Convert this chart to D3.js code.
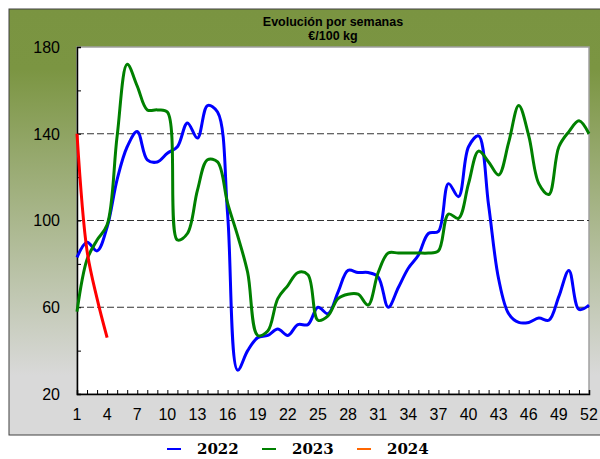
<!DOCTYPE html>
<html>
<head>
<meta charset="utf-8">
<script src="https://cdn.jsdelivr.net/npm/d3@7"></script>
<style>
  body { margin: 0; background: #fff; }
  svg { display: block; }
</style>
</head>
<body>
<svg id="chart" width="600" height="459"></svg>
<script>
const weeks = d3.range(1, 53);
const xTickWeeks = [1, 4, 7, 10, 13, 16, 19, 22, 25, 28, 31, 34, 37, 40, 43, 46, 49, 52];
const yTicks = [20, 60, 100, 140, 180];
const gridValues = [60, 100, 140];

const v2022 = [83, 90, 86, 97, 119, 134, 141, 128, 127, 131, 134, 145, 138, 153, 150, 103, 31, 40, 46, 47, 50, 47, 52, 52, 60,
  57, 67, 77, 76, 76, 74, 60, 69, 78, 84, 94, 95, 117, 111, 134, 139, 107, 73, 57, 53, 53, 55, 54, 65, 77, 59, 61];
const v2023 = [58, 82, 91, 98, 139, 172, 162, 151, 151, 150, 91, 94, 114, 128, 127, 108, 93, 76, 47, 49, 64, 70, 76, 75, 54,
  56, 64, 66, 66, 61, 76, 85, 85, 85, 85, 85, 86, 103, 101, 117, 132, 127, 121, 136, 153, 139, 117, 112, 134, 141, 146, 140];
const v2024 = [140, 86, 64, 46];

const series = [
  { name: "2022", values: v2022, color: "#0000ff", legend: "#0000ff" },
  { name: "2023", values: v2023, color: "#008000", legend: "#008000" },
  { name: "2024", values: v2024, color: "#ff0000", legend: "#ff6600" }
];

const svg = d3.select("#chart");
const plot = { left: 77, top: 47, right: 589, bottom: 394 };

const defs = svg.append("defs");
const grad = defs.append("linearGradient")
  .attr("id", "bg").attr("x1", 0).attr("y1", 0).attr("x2", 0).attr("y2", 1);
grad.append("stop").attr("offset", "0%").attr("stop-color", "#7a9441");
grad.append("stop").attr("offset", "14%").attr("stop-color", "#7b9542");
grad.append("stop").attr("offset", "86%").attr("stop-color", "#d9d9d9");
grad.append("stop").attr("offset", "100%").attr("stop-color", "#d9d9d9");

// outer panel
svg.append("rect")
  .attr("x", 9).attr("y", 9).attr("width", 600).attr("height", 426)
  .attr("fill", "url(#bg)").attr("stroke", "#404040").attr("stroke-width", 1);

// plot background
svg.append("rect")
  .attr("x", plot.left).attr("y", plot.top)
  .attr("width", plot.right - plot.left).attr("height", plot.bottom - plot.top)
  .attr("fill", "#fff").attr("stroke", "#a0a0a0").attr("stroke-width", 1.5);

const x = d3.scaleLinear().domain([1, 52]).range([plot.left, plot.right]);
const y = d3.scaleLinear().domain([20, 180]).range([plot.bottom, plot.top]);

// title
const title = svg.append("text")
  .attr("text-anchor", "middle")
  .style("font-family", "Liberation Sans, Arial, sans-serif")
  .style("font-weight", "bold").style("font-size", "12.5px");
title.append("tspan").attr("x", 333).attr("y", 26).text("Evolución por semanas");
title.append("tspan").attr("x", 333).attr("y", 40).text("€/100 kg");

// grid lines
svg.append("g").selectAll("line")
  .data(gridValues).join("line")
  .attr("x1", plot.left).attr("x2", plot.right)
  .attr("y1", d => y(d)).attr("y2", d => y(d))
  .attr("stroke", "#333").attr("stroke-width", 1)
  .attr("stroke-dasharray", "7,3");

// axes
const yAxis = d3.axisLeft(y).tickValues(d3.range(20, 181, 20)).tickSize(-4).tickFormat("");
svg.append("g")
  .attr("transform", `translate(${plot.left},0)`)
  .call(yAxis)
  .call(g => g.select(".domain").attr("stroke", "#000").attr("stroke-width", 1.5))
  .call(g => g.selectAll(".tick line").attr("stroke", "#000"));

svg.append("g").selectAll("text")
  .data(yTicks).join("text")
  .attr("x", 60).attr("y", d => y(d)).attr("dy", "0.36em")
  .attr("text-anchor", "end")
  .style("font-family", "Liberation Sans, Arial, sans-serif")
  .style("font-size", "16px")
  .text(d => d);

const xAxis = d3.axisBottom(x).tickValues(weeks).tickSize(-4).tickFormat("");
svg.append("g")
  .attr("transform", `translate(0,${plot.bottom})`)
  .call(xAxis)
  .call(g => g.select(".domain").attr("stroke", "#000").attr("stroke-width", 1.5))
  .call(g => g.selectAll(".tick line").attr("stroke", "#000"));

svg.append("g").selectAll("text")
  .data(xTickWeeks).join("text")
  .attr("x", d => x(d)).attr("y", 420)
  .attr("text-anchor", "middle")
  .style("font-family", "Liberation Sans, Arial, sans-serif")
  .style("font-size", "16px")
  .text(d => d);

// lines
const line = d3.line()
  .curve(d3.curveCatmullRom.alpha(0.5))
  .x((d, i) => x(i + 1))
  .y(d => y(d));

svg.append("g").selectAll("path")
  .data(series).join("path")
  .attr("fill", "none")
  .attr("stroke", d => d.color)
  .attr("stroke-width", 3)
  .attr("stroke-linejoin", "round")
  .attr("d", d => line(d.values));

// legend
const legendX = [167, 262, 357];
const leg = svg.append("g").selectAll("g")
  .data(series).join("g")
  .attr("transform", (d, i) => `translate(${legendX[i]},449)`);
leg.append("line")
  .attr("x1", 0).attr("x2", 14)
  .attr("stroke", d => d.legend).attr("stroke-width", 2);
leg.append("text")
  .attr("x", 30).attr("dy", "0.36em")
  .style("font-family", "DejaVu Serif, serif")
  .style("font-weight", "bold").style("font-size", "15px")
  .text(d => d.name);
</script>
</body>
</html>
